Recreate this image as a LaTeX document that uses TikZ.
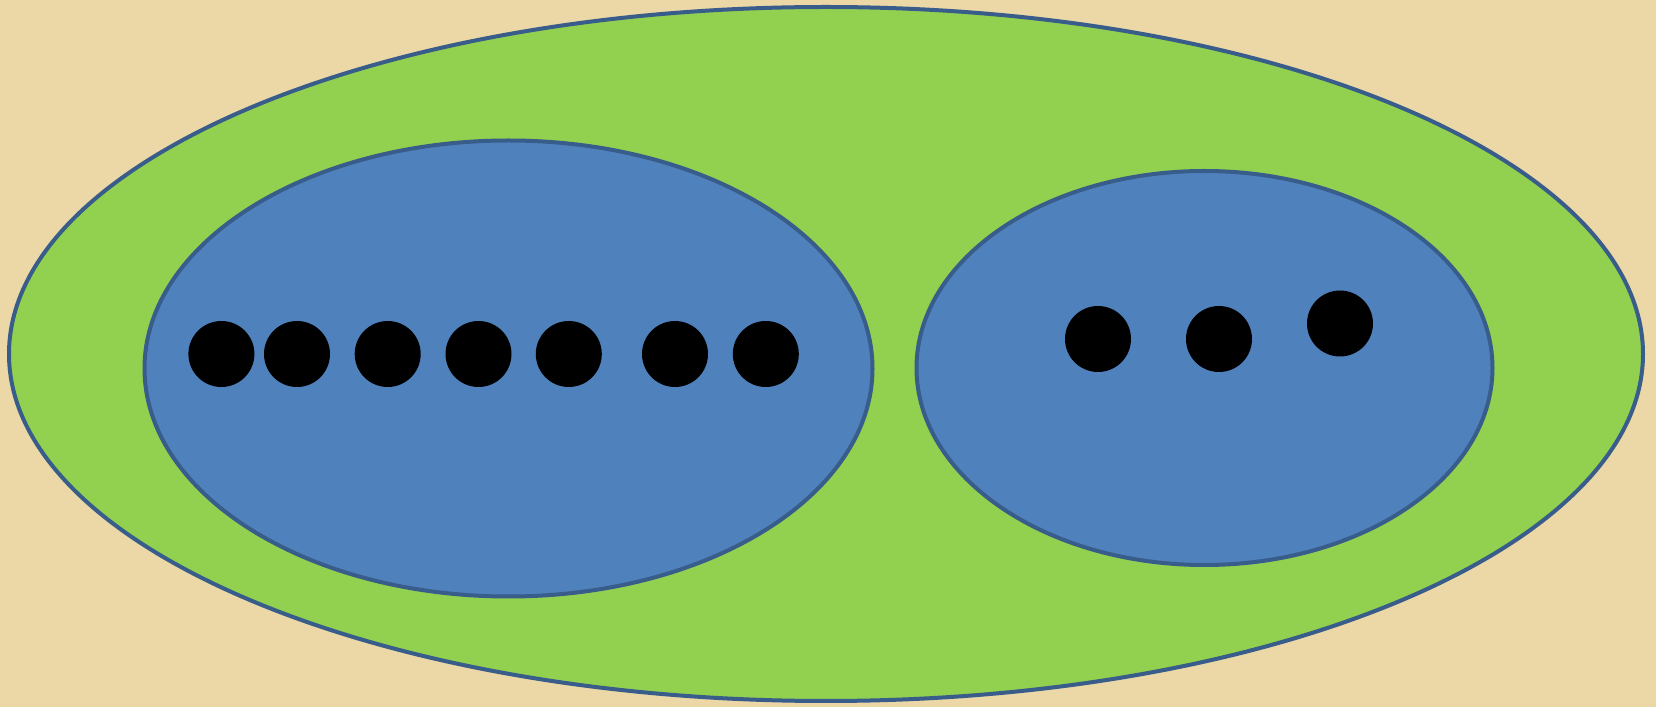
\documentclass[tikz,border=0pt]{standalone}
\usetikzlibrary{calc, positioning}

\definecolor{parchment}{RGB}{236,215,166}
\definecolor{setgreen}{RGB}{146,208,80}
\definecolor{setblue}{RGB}{79,129,189}
\definecolor{setedge}{RGB}{56,93,138}

\tikzset{
  setline/.style={draw=setedge, line width=0.04cm},
  element/.style={fill=black}
}

\begin{document}
\begin{tikzpicture}[x=1cm,y=1cm]
\useasboundingbox (0,0) rectangle (16.56,7.07);
\fill[parchment] (0,0) rectangle (16.56,7.07);

\coordinate (U) at (8.26,3.53);
\coordinate (L) at (5.085,3.385);
\coordinate (R) at (12.045,3.39);

% outer set and the two parts
\draw[setline, fill=setgreen] (U) ellipse [x radius=8.17cm, y radius=3.47cm];
\draw[setline, fill=setblue] (L) ellipse [x radius=3.64cm, y radius=2.28cm];
\draw[setline, fill=setblue] (R) ellipse [x radius=2.88cm, y radius=1.97cm];

% elements
\foreach \xx [count=\i] in {2.214,2.97,3.877,4.785,5.688,6.75,7.658}
  \fill[element] (\xx,3.53) coordinate (l\i) circle [radius=0.33cm];
\foreach \xx/\yy [count=\i] in {10.98/3.68, 12.19/3.68, 13.40/3.835}
  \fill[element] (\xx,\yy) coordinate (r\i) circle [radius=0.33cm];
\end{tikzpicture}
\end{document}
